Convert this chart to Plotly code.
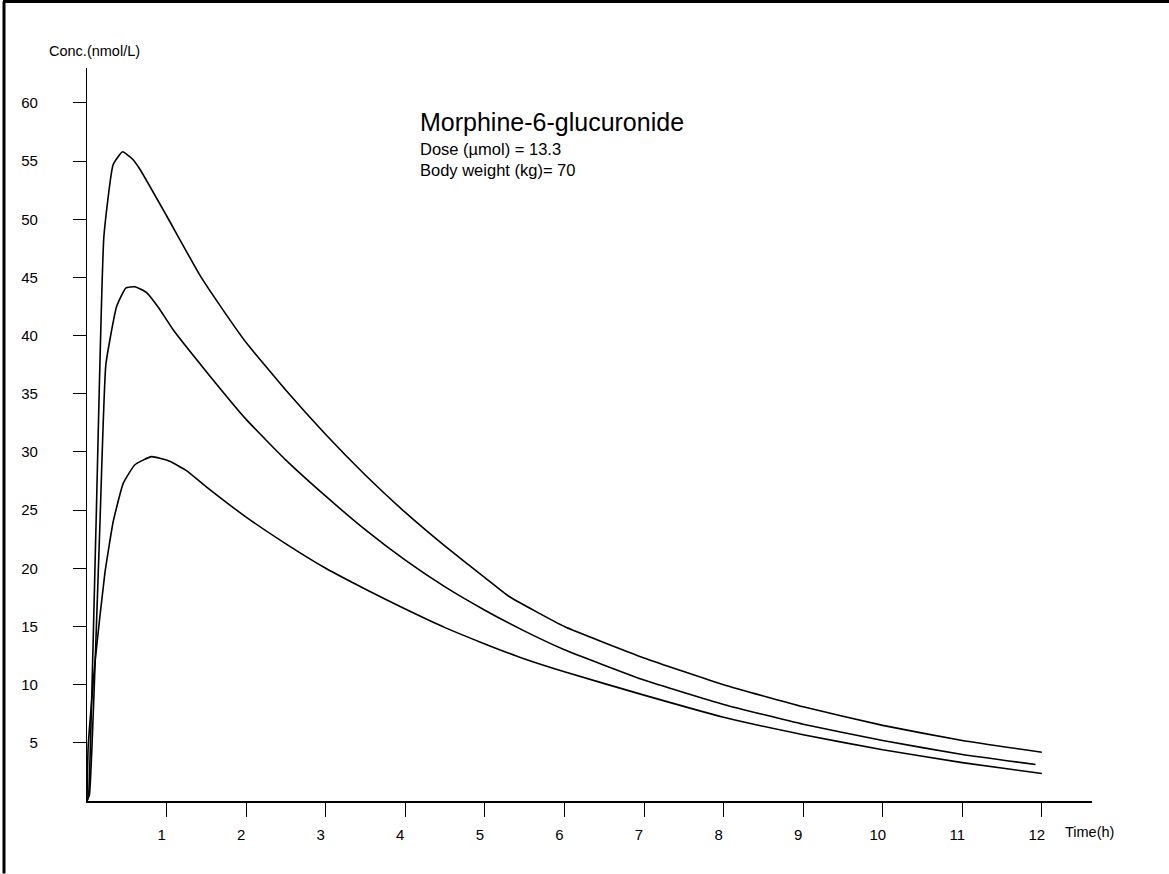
import plotly.graph_objects as go

# ---- data ----
t_high = [0, 0.02, 0.112, 0.212, 0.329, 0.447, 0.568, 0.665, 1.0, 1.418, 1.7, 2, 2.5, 3, 3.5, 4, 4.5, 5, 5.3, 6, 7, 8, 9, 10, 11, 12]
c_high = [0, 0.5, 23.3, 48.5, 54.7, 55.8, 55.2, 54.3, 50.3, 45.2, 42.3, 39.4, 35.3, 31.5, 28.0, 24.8, 21.9, 19.2, 17.6, 15.0, 12.3, 10.0, 8.1, 6.5, 5.2, 4.19]

t_mid = [0, 0.03, 0.16, 0.237, 0.372, 0.489, 0.602, 0.749, 0.9, 1.083, 1.5, 2, 2.5, 3, 3.5, 4, 4.5, 5, 5.5, 6, 7, 8, 9, 10, 11, 11.92]
c_mid = [0, 0.5, 23.3, 37.5, 42.5, 44.1, 44.2, 43.7, 42.4, 40.5, 36.9, 32.8, 29.3, 26.2, 23.3, 20.7, 18.4, 16.4, 14.6, 13.0, 10.4, 8.3, 6.6, 5.2, 4.0, 3.14]

t_low = [0, 0.015, 0.1, 0.225, 0.329, 0.455, 0.602, 0.811, 1.04, 1.25, 1.5, 2, 2.5, 3, 3.5, 4, 4.5, 5, 5.5, 6, 7, 8, 9, 10, 11, 12]
c_low = [0, 4.7, 11.9, 19.6, 24.0, 27.3, 28.9, 29.6, 29.2, 28.4, 27.0, 24.4, 22.1, 20.0, 18.2, 16.5, 14.9, 13.5, 12.2, 11.1, 9.1, 7.2, 5.7, 4.4, 3.3, 2.36]

x_ticks = list(range(1, 13))
y_ticks = list(range(5, 65, 5))

title_text = "Morphine-6-glucuronide"
dose_text = "Dose (µmol) = 13.3"
bw_text = "Body weight (kg)= 70"
y_label = "Conc.(nmol/L)"
x_label = "Time(h)"

FONT = "Liberation Sans, Arial, sans-serif"

fig = go.Figure()
for tt, cc in [(t_high, c_high), (t_mid, c_mid), (t_low, c_low)]:
    fig.add_trace(go.Scatter(x=tt, y=cc, mode="lines",
                             line=dict(color="black", width=1.6, shape="spline", smoothing=0.4),
                             showlegend=False, hoverinfo="skip"))

W_PX, H_PX = 1169, 874
L, R, T, B = 87, 77, 68, 72.5
pw = W_PX - L - R
ph = H_PX - T - B


def px(x):
    return (x - L) / pw


def py(y):
    return (H_PX - B - y) / ph


fig.update_layout(
    width=W_PX, height=H_PX,
    margin=dict(l=L, r=R, t=T, b=B, pad=0),
    paper_bgcolor="white", plot_bgcolor="white",
    font=dict(family=FONT, color="black", size=15),
    xaxis=dict(range=[0, 12.63], tickvals=x_ticks, ticktext=[str(v) for v in x_ticks],
               showgrid=False, zeroline=False, showline=True, linecolor="black",
               linewidth=1.5, ticks="outside", ticklen=14, tickwidth=1.2,
               tickcolor="black", tickfont=dict(size=15, family=FONT),
               ticklabelstandoff=5, ticklabelshift=-5),
    yaxis=dict(range=[0, 63], tickvals=y_ticks, ticktext=[str(v) for v in y_ticks],
               showgrid=False, zeroline=False, showline=True, linecolor="black",
               linewidth=1.2, ticks="outside", ticklen=13, tickwidth=1.2,
               tickcolor="black", tickfont=dict(size=15, family=FONT),
               ticklabelstandoff=32),
)

annos = [
    dict(text=y_label, x=px(47), y=py(51), size=14.5),
    dict(text=x_label, x=px(1063), y=py(833), size=14.5),
    dict(text=title_text, x=px(418), y=py(122), size=25),
    dict(text=dose_text, x=px(418), y=py(149), size=16.5),
    dict(text=bw_text, x=px(418), y=py(170), size=16.5),
]
for a in annos:
    fig.add_annotation(text=a["text"], x=a["x"], y=a["y"], xref="paper", yref="paper",
                       xanchor="left", yanchor="middle", showarrow=False,
                       font=dict(size=a["size"], family=FONT, color="black"))

# page frame (left and top edges)
fig.add_shape(type="line", xref="paper", yref="paper",
              x0=px(4), y0=py(874), x1=px(4), y1=py(1.5),
              line=dict(color="black", width=3))
fig.add_shape(type="line", xref="paper", yref="paper",
              x0=px(3), y0=py(1.5), x1=px(1169), y1=py(1.5),
              line=dict(color="black", width=3))

fig.write_html("out.html")
